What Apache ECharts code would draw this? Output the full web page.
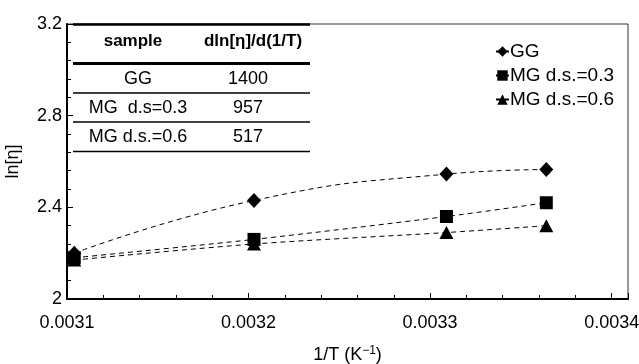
<!DOCTYPE html>
<html><head><meta charset="utf-8">
<script src="https://cdn.jsdelivr.net/npm/echarts@6/dist/echarts.min.js"></script>
<style>html,body{margin:0;padding:0;background:#fff}#c{width:639px;height:364px}</style>
</head><body><div id="c"></div>
<script>
const xVals = [0.003104, 0.003203, 0.003309, 0.003364];
const ggVals = [2.20, 2.43, 2.545, 2.565];
const mg03Vals = [2.18, 2.26, 2.36, 2.42];
const mg06Vals = [2.17, 2.24, 2.29, 2.32];
const seriesNames = ['GG', 'MG d.s.=0.3', 'MG d.s.=0.6'];
const tableHeader = ['sample', 'dln[η]/d(1/T)'];
const tableSamples = ['GG', 'MG  d.s=0.3', 'MG d.s.=0.6'];
const tableSlopes = ['1400', '957', '517'];

const FONT = 'Liberation Sans, Arial, sans-serif';
const chart = echarts.init(document.getElementById('c'));
const pair = v => xVals.map((x, i) => [x, v[i]]);

const graphic = [];
const rowY = [41, 79, 108, 137];
function txt(s, x, y, bold, size) {
  graphic.push({type:'text', x: x, y: y, style:{text: s, font:(bold?'bold ':'') + size + 'px ' + FONT, fill:'#000', align:'center', verticalAlign:'middle'}});
}
txt(tableHeader[0], 133, rowY[0], true, 17);
txt(tableHeader[1], 253, rowY[0], true, 17);
tableSamples.forEach((s, i) => { txt(s, 138, rowY[i+1], false, 18); txt(tableSlopes[i], 248, rowY[i+1], false, 18); });
function hline(y, w) {
  graphic.push({type:'line', shape:{x1:73, y1:y, x2:310, y2:y}, style:{stroke:'#000', lineWidth:w}});
}
hline(24.5, 2.5); hline(63.5, 3); hline(93, 1.5); hline(122, 1.5); hline(151.5, 1.5);

const baseSeries = (name, data, symbol, size, smooth) => ({
  name, type:'line', data: pair(data), symbol, symbolSize: size, smooth,
  lineStyle:{color:'#000', width:1, type:[5,4]}, itemStyle:{color:'#000'}
});

chart.setOption({
  animation: false,
  textStyle: {fontFamily: FONT},
  grid: {left:67, top:24, right:11, bottom:65, show:true, borderColor:'#333', borderWidth:1, containLabel:false, outerBoundsMode:'none'},
  legend: {
    right: 20, top: 37, orient:'vertical', itemGap: 5, itemWidth: 13, itemHeight: 13,
    textStyle:{fontSize:19, color:'#000', padding:[0,0,0,-4]},
    data: seriesNames.map(n => ({name:n}))
  },
  xAxis: {
    type:'value', min:0.0031, max:0.003409, interval:0.0001,
    name:'1/T (K{sup|−1})', nameLocation:'middle', nameGap:46,
    nameTextStyle:{fontSize:18, color:'#000', rich:{sup:{fontSize:12, verticalAlign:'top', padding:[0,0,8,0]}}},
    axisLine:{show:true, lineStyle:{color:'#000', width:2}},
    axisTick:{inside:true, length:6, lineStyle:{color:'#000', width:1}},
    minorTick:{show:true, splitNumber:5, length:4, lineStyle:{color:'#000'}},
    axisLabel:{fontSize:18, color:'#000', margin:15, showMaxLabel:false,
      formatter: v => (Math.abs(v/0.0001 - Math.round(v/0.0001)) < 1e-6) ? v.toFixed(4) : ''},
    splitLine:{show:false}
  },
  yAxis: {
    type:'value', min:2, max:3.2, interval:0.4,
    name:'ln[η]', nameLocation:'middle', nameGap:45,
    nameTextStyle:{fontSize:18, color:'#000'},
    axisLine:{show:true, lineStyle:{color:'#000', width:2}},
    axisTick:{inside:true, length:6, lineStyle:{color:'#000', width:1}},
    minorTick:{show:true, splitNumber:5, length:4, lineStyle:{color:'#000'}},
    axisLabel:{fontSize:18, color:'#000', margin:5, formatter: v => String(+v.toFixed(1))},
    splitLine:{show:false}
  },
  series: [
    baseSeries(seriesNames[0], ggVals, 'diamond', [14,15], 0.5),
    baseSeries(seriesNames[1], mg03Vals, 'rect', [13,13], 0.3),
    baseSeries(seriesNames[2], mg06Vals, 'triangle', [14,13], 0.3)
  ],
  graphic: graphic
});
</script></body></html>
